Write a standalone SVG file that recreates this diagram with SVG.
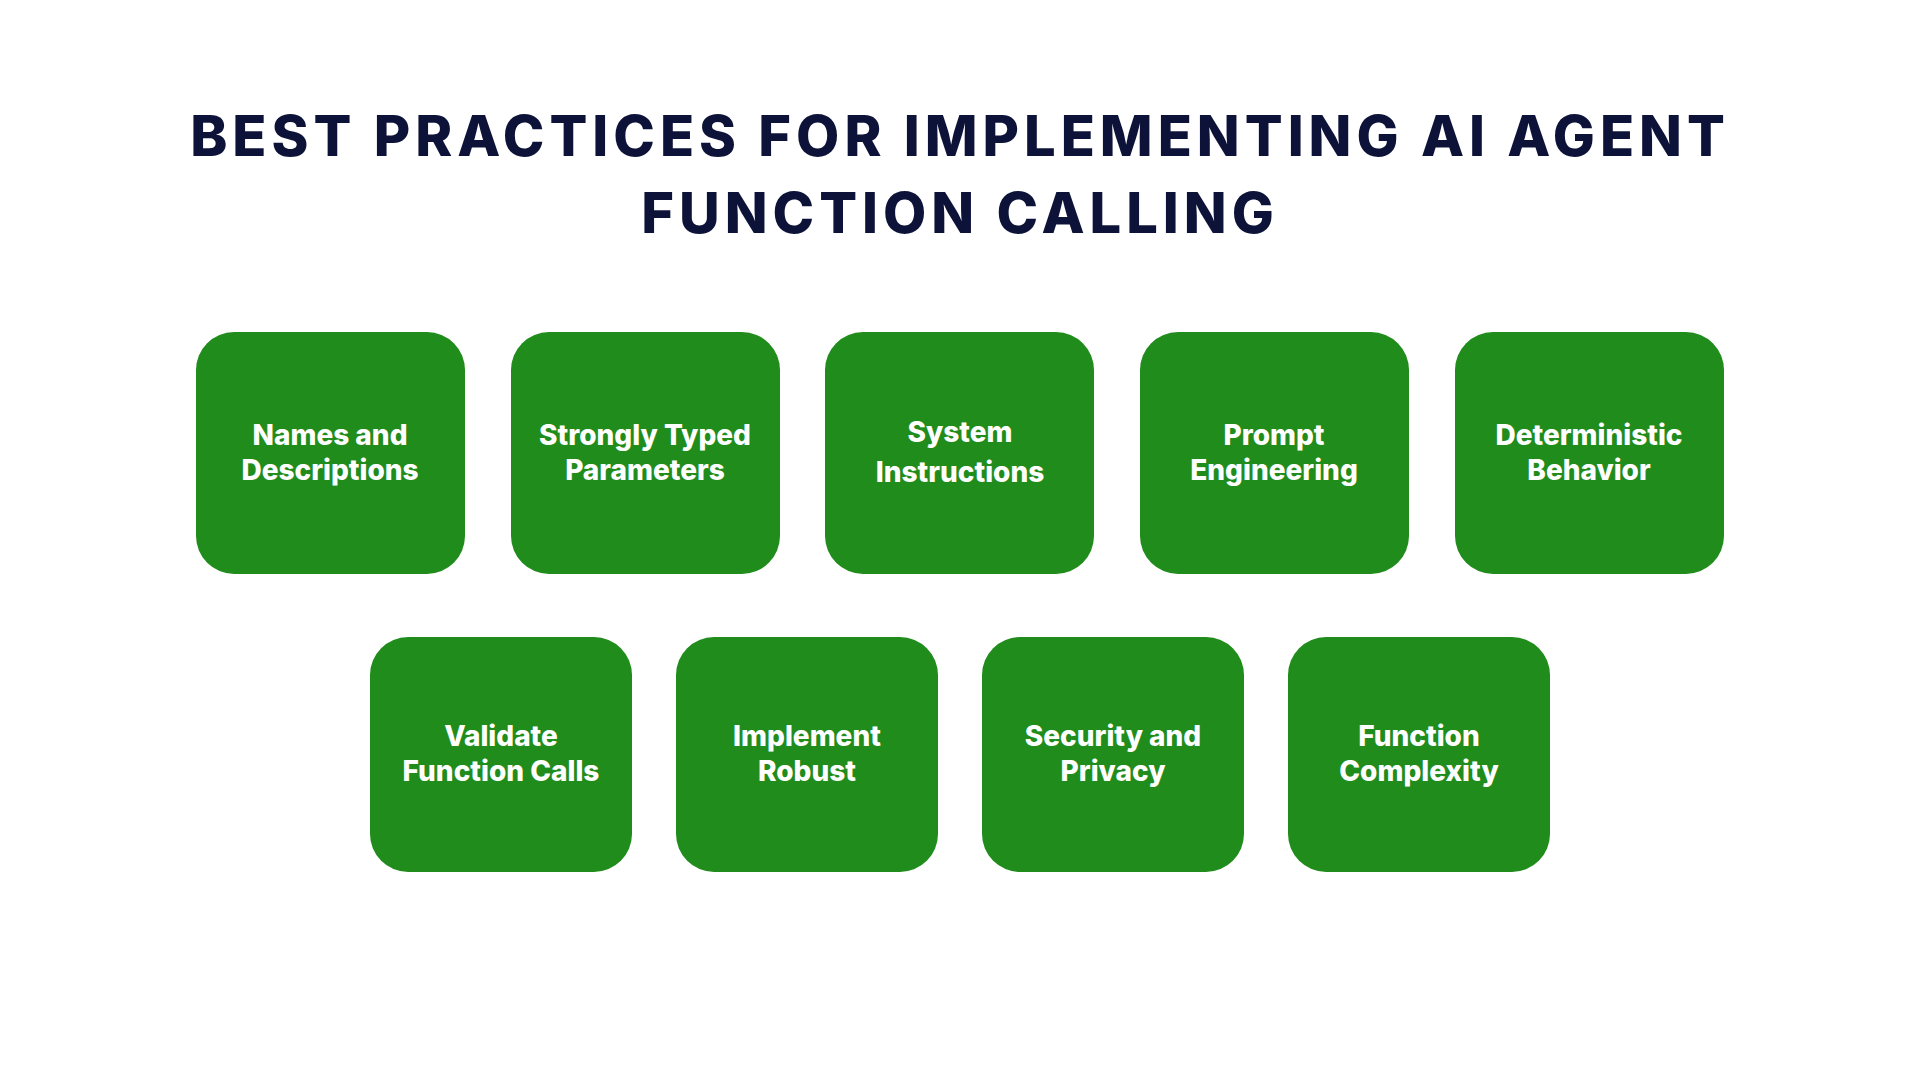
<svg xmlns="http://www.w3.org/2000/svg" width="1920" height="1080" viewBox="0 0 1920 1080">
<style>
.t{font-family:Inter,"Open Sans","Liberation Sans",sans-serif;font-weight:800;fill:#0d1238;font-size:56px;letter-spacing:5px;text-anchor:middle}
.b{fill:#208c1c}
.l{font-family:Inter,"Open Sans","Liberation Sans",sans-serif;font-weight:800;fill:#fff;font-size:28px;text-anchor:middle}
</style>
<rect width="1920" height="1080" fill="#fff"/>
<text class="t" x="960" y="156">BEST PRACTICES FOR IMPLEMENTING AI AGENT</text>
<text class="t" x="960" y="233">FUNCTION CALLING</text>
<g id="n1"><rect class="b" x="196" y="332" width="269" height="242" rx="38"/><text class="l" x="330" y="445">Names and</text><text class="l" x="330" y="480">Descriptions</text></g>
<g id="n2"><rect class="b" x="511" y="332" width="269" height="242" rx="38"/><text class="l" x="645" y="445">Strongly Typed</text><text class="l" x="645" y="480">Parameters</text></g>
<g id="n3"><rect class="b" x="825" y="332" width="269" height="242" rx="38"/><text class="l" x="960" y="442">System</text><text class="l" x="960" y="482">Instructions</text></g>
<g id="n4"><rect class="b" x="1140" y="332" width="269" height="242" rx="38"/><text class="l" x="1274" y="445">Prompt</text><text class="l" x="1274" y="480">Engineering</text></g>
<g id="n5"><rect class="b" x="1455" y="332" width="269" height="242" rx="38"/><text class="l" x="1589" y="445">Deterministic</text><text class="l" x="1589" y="480">Behavior</text></g>
<g id="n6"><rect class="b" x="370" y="637" width="262" height="235" rx="38"/><text class="l" x="501" y="746">Validate</text><text class="l" x="501" y="781">Function Calls</text></g>
<g id="n7"><rect class="b" x="676" y="637" width="262" height="235" rx="38"/><text class="l" x="807" y="746">Implement</text><text class="l" x="807" y="781">Robust</text></g>
<g id="n8"><rect class="b" x="982" y="637" width="262" height="235" rx="38"/><text class="l" x="1113" y="746">Security and</text><text class="l" x="1113" y="781">Privacy</text></g>
<g id="n9"><rect class="b" x="1288" y="637" width="262" height="235" rx="38"/><text class="l" x="1419" y="746">Function</text><text class="l" x="1419" y="781">Complexity</text></g>
<g id="connectors"/>
</svg>
